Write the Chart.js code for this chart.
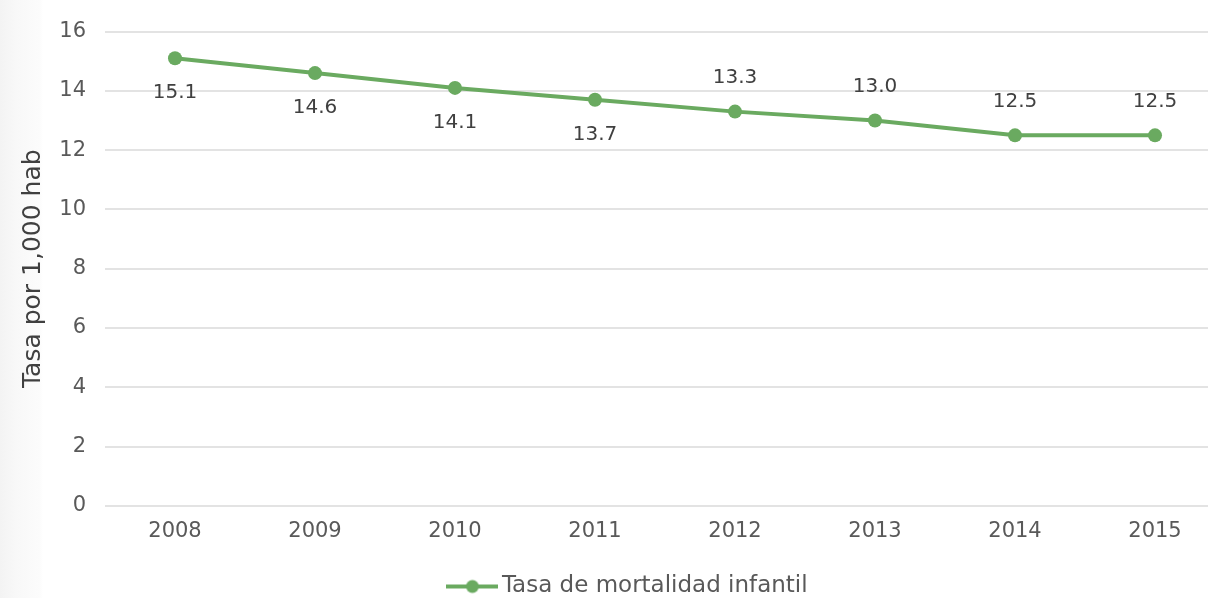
<!DOCTYPE html>
<html>
<head>
<meta charset="utf-8">
<script src="https://cdn.jsdelivr.net/npm/chart.js@4"></script>
<style>
  html, body { margin: 0; padding: 0; overflow: hidden; }
  body {
    width: 1208px; height: 598px;
    background: linear-gradient(to right, #f3f3f3 0px, #f8f8f8 16px, #fcfcfc 40px, #ffffff 43px);
  }
  #wrap { position: relative; width: 1232px; height: 598px; }
</style>
</head>
<body>
<div id="wrap"><canvas id="myChart"></canvas></div>
<script>
// Chart data
const years = ['2008', '2009', '2010', '2011', '2012', '2013', '2014', '2015'];
const mortalidad = [15.1, 14.6, 14.1, 13.7, 13.3, 13.0, 12.5, 12.5];
const labelSide = ['below', 'below', 'below', 'below', 'above', 'above', 'above', 'above'];
const yTicks = [0, 2, 4, 6, 8, 10, 12, 14, 16];

const green = 'rgb(106, 170, 96)';
const fontName = '"DejaVu Sans", sans-serif';

// Legend marker: line with a dot in the middle
function legendMarker() {
    const c = document.createElement('canvas');
    c.width = 52;
    c.height = 16;
    const g = c.getContext('2d');
    g.strokeStyle = green;
    g.lineWidth = 4;
    g.beginPath();
    g.moveTo(0, 8);
    g.lineTo(52, 8);
    g.stroke();
    g.fillStyle = green;
    g.beginPath();
    g.arc(26, 8, 6.5, 0, Math.PI * 2);
    g.fill();
    return c;
}

// Value labels above/below each point
const valueLabels = {
    id: 'valueLabels',
    afterDatasetsDraw(chart) {
        const ctx = chart.ctx;
        const meta = chart.getDatasetMeta(0);
        ctx.save();
        ctx.font = '20px ' + fontName;
        ctx.fillStyle = '#404040';
        ctx.textAlign = 'center';
        ctx.textBaseline = 'middle';
        meta.data.forEach((pt, i) => {
            const dy = labelSide[i] === 'below' ? 35 : -34;
            ctx.fillText(mortalidad[i].toFixed(1), pt.x, pt.y + dy);
        });
        ctx.restore();
    }
};

// nudge legend to match the original placement
const legendShift = {
    id: 'legendShift',
    afterLayout(chart) {
        chart.legend.left += 15;
        chart.legend.right += 15;
        chart.legend.top += 10;
        chart.legend.bottom += 10;
    }
};

const ctx = document.getElementById('myChart').getContext('2d');
const chart = new Chart(ctx, {
    type: 'line',
    data: {
        labels: years,
        datasets: [{
            label: 'Tasa de mortalidad infantil',
            data: mortalidad,
            borderColor: green,
            backgroundColor: green,
            borderWidth: 4,
            pointRadius: 7,
            pointHoverRadius: 7,
            pointBackgroundColor: green,
            pointBorderWidth: 0,
            tension: 0,
            fill: false,
            pointStyle: 'circle'
        }]
    },
    plugins: [valueLabels, legendShift],
    options: {
        responsive: true,
        maintainAspectRatio: false,
        animation: false,
        layout: { padding: { top: 14, left: 0, right: 0, bottom: 0 } },
        plugins: {
            tooltip: { enabled: false },
            legend: {
                position: 'bottom',
                labels: {
                    usePointStyle: true,
                    pointStyleWidth: 36,
                    padding: 8,
                    color: '#595959',
                    font: { family: fontName, size: 23 },
                    generateLabels(chart) {
                        return [{
                            text: chart.data.datasets[0].label,
                            pointStyle: legendMarker(),
                            fontColor: '#595959',
                            datasetIndex: 0,
                            lineWidth: 0
                        }];
                    }
                }
            }
        },
        scales: {
            x: {
                offset: true,
                grid: { display: false, drawTicks: false },
                border: { display: false },
                ticks: {
                    color: '#595959',
                    padding: 13,
                    font: { family: fontName, size: 21 }
                }
            },
            y: {
                min: 0,
                max: 16,
                afterBuildTicks(scale) {
                    scale.ticks = yTicks.map(v => ({ value: v }));
                },
                afterFit(scale) {
                    scale.width = 105;
                },
                grid: { color: '#e3e3e3', lineWidth: 2, drawTicks: false },
                border: { display: false },
                ticks: {
                    color: '#595959',
                    padding: 19,
                    font: { family: fontName, size: 21 }
                },
                title: {
                    display: true,
                    text: 'Tasa por 1,000 hab',
                    color: '#404040',
                    padding: { top: 18, bottom: 0 },
                    font: { family: fontName, size: 25 }
                }
            }
        }
    }
});
</script>
</body>
</html>
